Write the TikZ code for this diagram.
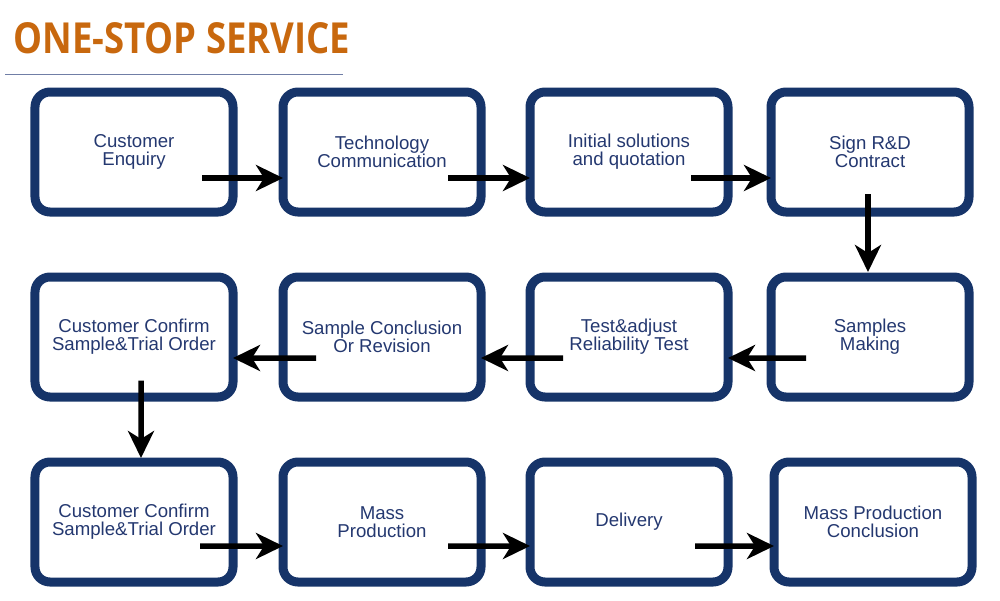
\documentclass[tikz,border=0pt]{standalone}
\usepackage{fontspec}
\setmainfont{Liberation Sans}
\newfontfamily\titlefont{Open Sans}
\usepackage{xcolor}
\definecolor{boxnavy}{RGB}{22,52,105}
\definecolor{textnavy}{RGB}{36,56,112}
\definecolor{titleorange}{RGB}{200,104,14}
\definecolor{rulegray}{RGB}{112,126,166}
\usepackage{graphicx}
\usepackage{tikz}
\usetikzlibrary{
    arrows.meta,
    positioning
}
\tikzset{
    stepbox/.style={draw=boxnavy,line width=0.18cm,rounded corners=0.3cm,
        minimum width=3.96cm,minimum height=2.4cm,inner sep=0pt,outer sep=0pt,
        align=center,text=textnavy,font=\fontsize{10.6pt}{10.3pt}\selectfont},
    flow/.style={line width=0.11cm,-{Stealth[length=0.54cm,width=0.52cm,inset=0.16cm]}}
}

\begin{document}
\begin{tikzpicture}[node distance=1.3cm and 1.0cm]
    \useasboundingbox (0,0) rectangle (20,-12);
    \node[anchor=north west,inner sep=0pt,text=titleorange] (title) at (0.26,-0.44)
        {\resizebox{6.74cm}{0.62cm}{\titlefont\bfseries ONE-STOP SERVICE}};
    \draw[rulegray,line width=0.03cm] (0.1,-1.49) -- (6.86,-1.49);

    \node[stepbox] (enquiry) at (2.68,-3.04) {Customer\\Enquiry};
    \node[stepbox,right=of enquiry] (techcomm) {Technology\\Communication};
    \node[stepbox,right=0.98cm of techcomm] (quote) {Initial solutions\\and quotation};
    \node[stepbox,right=0.86cm of quote] (contract) {Sign R\&D\\Contract};

    \node[stepbox,below=of contract] (samples) {Samples\\Making};
    \node[stepbox,left=0.86cm of samples] (testing) {Test\&adjust\\Reliability Test};
    \node[stepbox,left=0.98cm of testing] (revision) {Sample Conclusion\\Or Revision};
    \node[stepbox,left=of revision] (confirm) {Customer Confirm\\Sample\&Trial Order};

    \node[stepbox,below=of confirm] (trialorder) {Customer Confirm\\Sample\&Trial Order};
    \node[stepbox,right=of trialorder] (massprod) {Mass\\Production};
    \node[stepbox,right=0.98cm of massprod] (delivery) {Delivery};
    \node[stepbox,right=0.92cm of delivery] (massend) {Mass Production\\Conclusion};

    \draw[flow] ([shift={(-0.62,-0.52)}]enquiry.east) -- ([yshift=-0.52cm]techcomm.west);
    \draw[flow] ([shift={(-0.66,-0.52)}]techcomm.east) -- ([yshift=-0.52cm]quote.west);
    \draw[flow] ([shift={(-0.74,-0.52)}]quote.east) -- ([yshift=-0.52cm]contract.west);
    \draw[flow] ([shift={(-0.04,0.36)}]contract.south) -- ([xshift=-0.04cm,yshift=0.1cm]samples.north);

    \draw[flow] ([shift={(0.7,-0.42)}]samples.west) -- ([yshift=-0.42cm]testing.east);
    \draw[flow] ([shift={(0.66,-0.42)}]testing.west) -- ([yshift=-0.42cm]revision.east);
    \draw[flow] ([shift={(0.66,-0.42)}]revision.west) -- ([yshift=-0.42cm]confirm.east);
    \draw[flow] ([shift={(0.14,0.33)}]confirm.south) -- ([xshift=0.14cm,yshift=0.08cm]trialorder.north);

    \draw[flow] ([shift={(-0.66,-0.48)}]trialorder.east) -- ([yshift=-0.48cm]massprod.west);
    \draw[flow] ([shift={(-0.66,-0.48)}]massprod.east) -- ([yshift=-0.48cm]delivery.west);
    \draw[flow] ([shift={(-0.66,-0.48)}]delivery.east) -- ([yshift=-0.48cm]massend.west);
\end{tikzpicture}
\end{document}
